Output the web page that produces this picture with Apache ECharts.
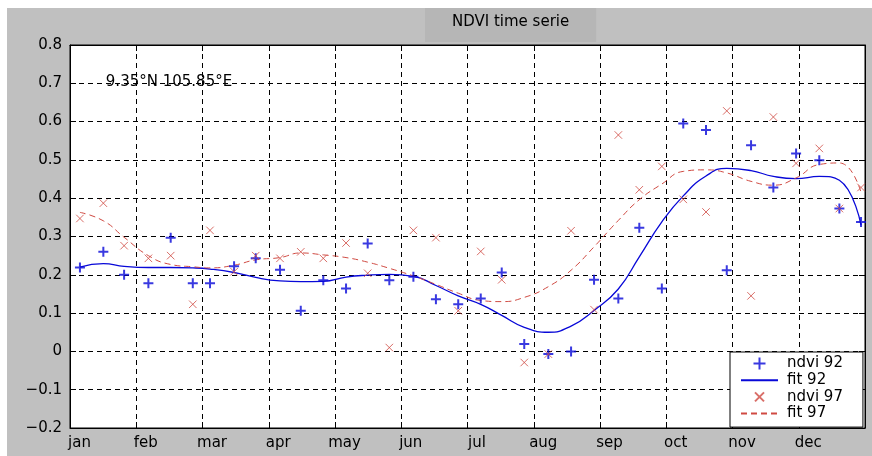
<!DOCTYPE html>
<html>
<head>
<meta charset="utf-8">
<script src="https://cdn.jsdelivr.net/npm/echarts@6/dist/echarts.min.js"></script>
<style>
  html, body { margin: 0; padding: 0; background: #fff; }
  #chart { width: 872px; height: 456px; }
</style>
</head>
<body>
<div id="chart"></div>
<script>
// Month labels on the time axis (axis unit = one dekad, 3 per month)
const monthLabels = ['jan', 'feb', 'mar', 'apr', 'may', 'jun', 'jul', 'aug', 'sep', 'oct', 'nov', 'dec'];

// Position of each 10-day composite along the year (dekad units)
const obsPos = [
  0.45, 1.51, 2.45, 3.55, 4.56, 5.56, 6.34, 7.43, 8.41,
  9.51, 10.45, 11.47, 12.50, 13.48, 14.46, 15.55, 16.57, 17.58,
  18.60, 19.55, 20.57, 21.66, 22.69, 23.73, 24.83, 25.78, 26.80,
  27.77, 28.80, 29.74, 30.84, 31.85, 32.88, 33.93, 34.84, 35.82
];

// NDVI observations, 1992
const ndvi92 = [
  0.219, 0.260, 0.200, 0.178, 0.297, 0.178, 0.178, 0.222, 0.243,
  0.213, 0.106, 0.186, 0.164, 0.282, 0.186, 0.195, 0.136, 0.123,
  0.138, 0.206, 0.019, -0.007, 0.000, 0.187, 0.138, 0.323, 0.164,
  0.595, 0.578, 0.212, 0.538, 0.428, 0.517, 0.499, 0.373, 0.338
];

// Fitted curve, 1992
const fit92 = [
  0.220, 0.229, 0.222, 0.219, 0.219, 0.218, 0.215, 0.206, 0.193,
  0.184, 0.182, 0.183, 0.194, 0.199, 0.201, 0.196, 0.172, 0.145,
  0.123, 0.094, 0.063, 0.050, 0.066, 0.107, 0.163, 0.247, 0.338,
  0.406, 0.458, 0.478, 0.472, 0.457, 0.451, 0.457, 0.447, 0.330
];

// NDVI observations, 1997
const ndvi97 = [
  0.347, 0.387, 0.276, 0.243, 0.250, 0.123, 0.316, 0.208, 0.250,
  0.243, 0.260, 0.243, 0.283, 0.204, 0.010, 0.316, 0.297, 0.106,
  0.261, 0.187, -0.029, -0.007, 0.315, 0.109, 0.565, 0.422, 0.483,
  0.397, 0.364, 0.628, 0.145, 0.612, 0.491, 0.530, 0.373, 0.428
];

// Fitted curve, 1997
const fit97 = [
  0.363, 0.341, 0.298, 0.250, 0.227, 0.221, 0.218, 0.225, 0.239,
  0.245, 0.257, 0.252, 0.245, 0.233, 0.217, 0.197, 0.175, 0.152,
  0.133, 0.130, 0.141, 0.169, 0.212, 0.273, 0.342, 0.396, 0.437,
  0.470, 0.474, 0.466, 0.444, 0.434, 0.453, 0.488, 0.492, 0.415
];

const yMin = -0.2, yMax = 0.8, yStep = 0.1;
const xMin = 0, xMax = 36, xStep = 3;

const pair = (xs, ys) => xs.map((x, i) => [x, ys[i]]);

const FONT = 'DejaVu Sans';
const BLUE = '#0808d8';
const RED = '#d04a42';

// marker shapes: plus and cross (cross padded inside its box so it reads smaller)
const plusPath = 'path://M0,6L12,6M6,0L6,12';
const crossPath = 'path://M0,0M12,12M1.5,1.5L10.5,10.5M10.5,1.5L1.5,10.5';

const fmtY = v => {
  if (Math.abs(v) < 1e-9) return '0';
  return (v < 0 ? '\u2212' : '') + Math.abs(v).toFixed(1);
};

const gridLine = { show: true, lineStyle: { color: '#000', width: 1, type: [5, 4] } };

// legend entries for the fitted curves show only the line, no marker
const noMarker = { color: 'rgba(0,0,0,0)', borderColor: 'rgba(0,0,0,0)', borderWidth: 0 };

const chart = echarts.init(document.getElementById('chart'), null, { renderer: 'canvas' });

chart.setOption({
  backgroundColor: '#c0c0c0',
  animation: false,
  textStyle: { fontFamily: FONT },
  title: {
    text: 'NDVI time serie',
    left: 425,
    top: 8,
    padding: [7, 27, 12, 27],
    backgroundColor: '#b6b6b6',
    textStyle: { fontFamily: FONT, fontSize: 15, fontWeight: 'normal', color: '#000' }
  },
  graphic: [
    // white margin strips around the figure panel
    { type: 'rect', shape: { x: 0, y: 0, width: 872, height: 8 }, style: { fill: '#fff' }, silent: true },
    { type: 'rect', shape: { x: 0, y: 0, width: 7, height: 456 }, style: { fill: '#fff' }, silent: true },
    {
      type: 'text',
      x: 169, y: 82,
      style: {
        text: '9.35\u00b0N 105.85\u00b0E',
        fontFamily: FONT, fontSize: 15, fill: '#000',
        align: 'center', verticalAlign: 'middle'
      },
      z: 100
    }
  ],
  grid: {
    left: 70, right: 7, top: 45, bottom: 28,
    show: true, backgroundColor: '#fff', borderColor: '#000', borderWidth: 1
  },
  legend: {
    orient: 'vertical',
    left: 730, top: 352,
    padding: [4, 20, 6, 10],
    backgroundColor: '#fff',
    borderColor: '#000',
    borderWidth: 1,
    itemWidth: 37,
    itemHeight: 12,
    itemGap: 1.7,
    textStyle: { fontFamily: FONT, fontSize: 15, color: '#000', lineHeight: 15, padding: [0, 0, 0, 4] },
    data: [
      { name: 'ndvi 92' },
      { name: 'fit 92', itemStyle: noMarker },
      { name: 'ndvi 97' },
      { name: 'fit 97', itemStyle: noMarker }
    ]
  },
  xAxis: [
    {
      type: 'value', min: xMin, max: xMax, interval: xStep, position: 'bottom',
      axisLine: { show: true, onZero: false, lineStyle: { color: '#000', width: 1 } },
      axisTick: { show: true, inside: true, length: 6, lineStyle: { color: '#000' } },
      axisLabel: {
        show: true, margin: 8, color: '#000', fontFamily: FONT, fontSize: 15,
        align: 'center', padding: [0, 0, 0, 19],
        formatter: v => monthLabels[Math.round(v / xStep)] || ''
      },
      splitLine: gridLine
    },
    {
      type: 'value', min: xMin, max: xMax, interval: xStep, position: 'top',
      axisLine: { show: true, onZero: false, lineStyle: { color: '#000', width: 1 } },
      axisTick: { show: true, inside: true, length: 6, lineStyle: { color: '#000' } },
      axisLabel: { show: false },
      splitLine: { show: false }
    }
  ],
  yAxis: [
    {
      type: 'value', min: yMin, max: yMax, interval: yStep, position: 'left',
      axisLine: { show: true, onZero: false, lineStyle: { color: '#000', width: 1 } },
      axisTick: { show: true, inside: true, length: 6, lineStyle: { color: '#000' } },
      axisLabel: { show: true, margin: 8, color: '#000', fontFamily: FONT, fontSize: 15, formatter: fmtY },
      splitLine: gridLine
    },
    {
      type: 'value', min: yMin, max: yMax, interval: yStep, position: 'right',
      axisLine: { show: true, onZero: false, lineStyle: { color: '#000', width: 1 } },
      axisTick: { show: true, inside: true, length: 6, lineStyle: { color: '#000' } },
      axisLabel: { show: false },
      splitLine: { show: false }
    }
  ],
  series: [
    {
      name: 'ndvi 92', type: 'scatter',
      data: pair(obsPos, ndvi92),
      symbol: plusPath, symbolSize: 10, symbolKeepAspect: true,
      itemStyle: { color: BLUE, borderColor: BLUE, borderWidth: 2 },
      emphasis: { disabled: true }, z: 3
    },
    {
      name: 'fit 92', type: 'line',
      data: pair(obsPos, fit92),
      smooth: true, symbol: 'none', showSymbol: false,
      itemStyle: { color: BLUE },
      lineStyle: { color: BLUE, width: 1.3 },
      emphasis: { disabled: true }, z: 2
    },
    {
      name: 'ndvi 97', type: 'scatter',
      data: pair(obsPos, ndvi97),
      symbol: crossPath, symbolSize: 10, symbolKeepAspect: true,
      itemStyle: { color: RED, borderColor: RED, borderWidth: 1 },
      emphasis: { disabled: true }, z: 3
    },
    {
      name: 'fit 97', type: 'line',
      data: pair(obsPos, fit97),
      smooth: true, symbol: 'none', showSymbol: false,
      itemStyle: { color: RED },
      lineStyle: { color: RED, width: 1, type: [6, 4] },
      emphasis: { disabled: true }, z: 2
    }
  ]
});
</script>
</body>
</html>
